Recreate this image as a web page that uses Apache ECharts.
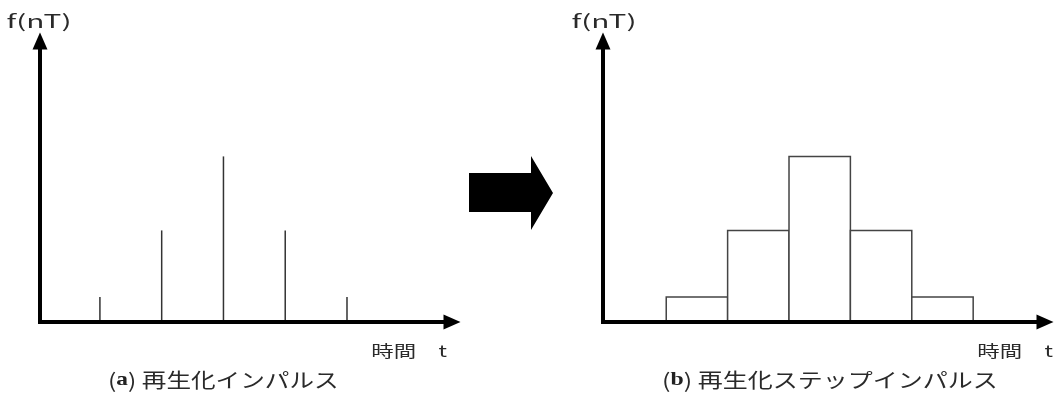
<!DOCTYPE html>
<html>
<head>
<meta charset="utf-8">
<script src="https://cdn.jsdelivr.net/npm/echarts@6/dist/echarts.min.js"></script>
<style>
html,body{margin:0;padding:0;background:#fff;}
#chart{width:1056px;height:394px;}
</style>
</head>
<body>
<div id="chart"></div>
<script>
// ---- data ----
const sampleTimes = [1, 2, 3, 4, 5];            // n (in units of T)
const sampleValues = [1, 3.65, 6.6, 3.65, 1];   // f(nT)
const stepWidth = 1;                             // hold duration T
const yAxisLabel = 'f(nT)';
const xAxisLabel = '時間\u3000t';
const captionA = '({ab|a}) 再生化インパルス';
const captionB = '({ab|b}) 再生化ステップインパルス';

const pts = sampleTimes.map((t, i) => [t, sampleValues[i]]);

const axisLine = {
  show: true, onZero: false,
  symbol: ['none', 'triangle'], symbolSize: [15, 17],
  lineStyle: { color: '#000', width: 4, cap: 'square' }
};
function axisCommon(extra) {
  return Object.assign({
    type: 'value', z: 5,
    axisLine: axisLine,
    axisTick: { show: false }, axisLabel: { show: false }, splitLine: { show: false }
  }, extra);
}

const chart = echarts.init(document.getElementById('chart'), null, { renderer: 'canvas' });
const textFont = 'Noto Sans CJK JP';
function txt(text, x, y, size, scaleX, align, extra) {
  return {
    type: 'text', x: x, y: y, scaleX: scaleX, z: 10,
    style: Object.assign({
      text: text, fontFamily: textFont, fontSize: size, fill: '#2a2a2a',
      align: align, verticalAlign: 'middle'
    }, extra || {})
  };
}
const richAB = { ab: { fontFamily: 'Liberation Serif', fontWeight: 'bold', fontSize: 19, fill: '#222' } };

chart.setOption({
  animation: false,
  backgroundColor: '#fff',
  grid: [
    { left: 40, top: 41, width: 412, height: 281 },
    { left: 603, top: 41, width: 442, height: 281 }
  ],
  xAxis: [
    axisCommon({ gridIndex: 0, min: 0.03, max: 6.70 }),
    axisCommon({ gridIndex: 1, min: -0.03, max: 7.17 })
  ],
  yAxis: [
    axisCommon({ gridIndex: 0, min: 0, max: 11.2 }),
    axisCommon({ gridIndex: 1, min: 0, max: 11.2 })
  ],
  series: [
    {
      type: 'custom', xAxisIndex: 0, yAxisIndex: 0, data: pts, z: 2,
      renderItem: function (params, api) {
        const p0 = api.coord([api.value(0), 0]);
        const p1 = api.coord([api.value(0), api.value(1)]);
        return { type: 'line', shape: { x1: p0[0], y1: p0[1], x2: p1[0], y2: p1[1] },
                 style: { stroke: '#333', lineWidth: 1.5 } };
      }
    },
    {
      type: 'custom', xAxisIndex: 1, yAxisIndex: 1, data: pts, z: 2,
      renderItem: function (params, api) {
        const p0 = api.coord([api.value(0), api.value(1)]);
        const p1 = api.coord([api.value(0) + stepWidth, 0]);
        return { type: 'rect', shape: { x: p0[0], y: p0[1], width: p1[0] - p0[0], height: p1[1] - p0[1] },
                 style: { fill: '#fff', stroke: '#444', lineWidth: 1.5 } };
      }
    }
  ],
  graphic: [
    { type: 'polygon', z: 10,
      shape: { points: [[469,173],[531,173],[531,156],[553,193],[531,230],[531,212],[469,212]] },
      style: { fill: '#000' } },
    txt(yAxisLabel, 39, 21, 18, 1.65, 'center'),
    txt(yAxisLabel, 604, 21, 18, 1.65, 'center'),
    txt(xAxisLabel, 447, 351, 16, 1.4, 'right'),
    txt(xAxisLabel, 1053, 351, 16, 1.4, 'right'),
    txt(captionA, 108, 380, 20, 1.23, 'left', { rich: richAB }),
    txt(captionB, 662, 380, 20, 1.25, 'left', { rich: richAB })
  ]
});
</script>
</body>
</html>
